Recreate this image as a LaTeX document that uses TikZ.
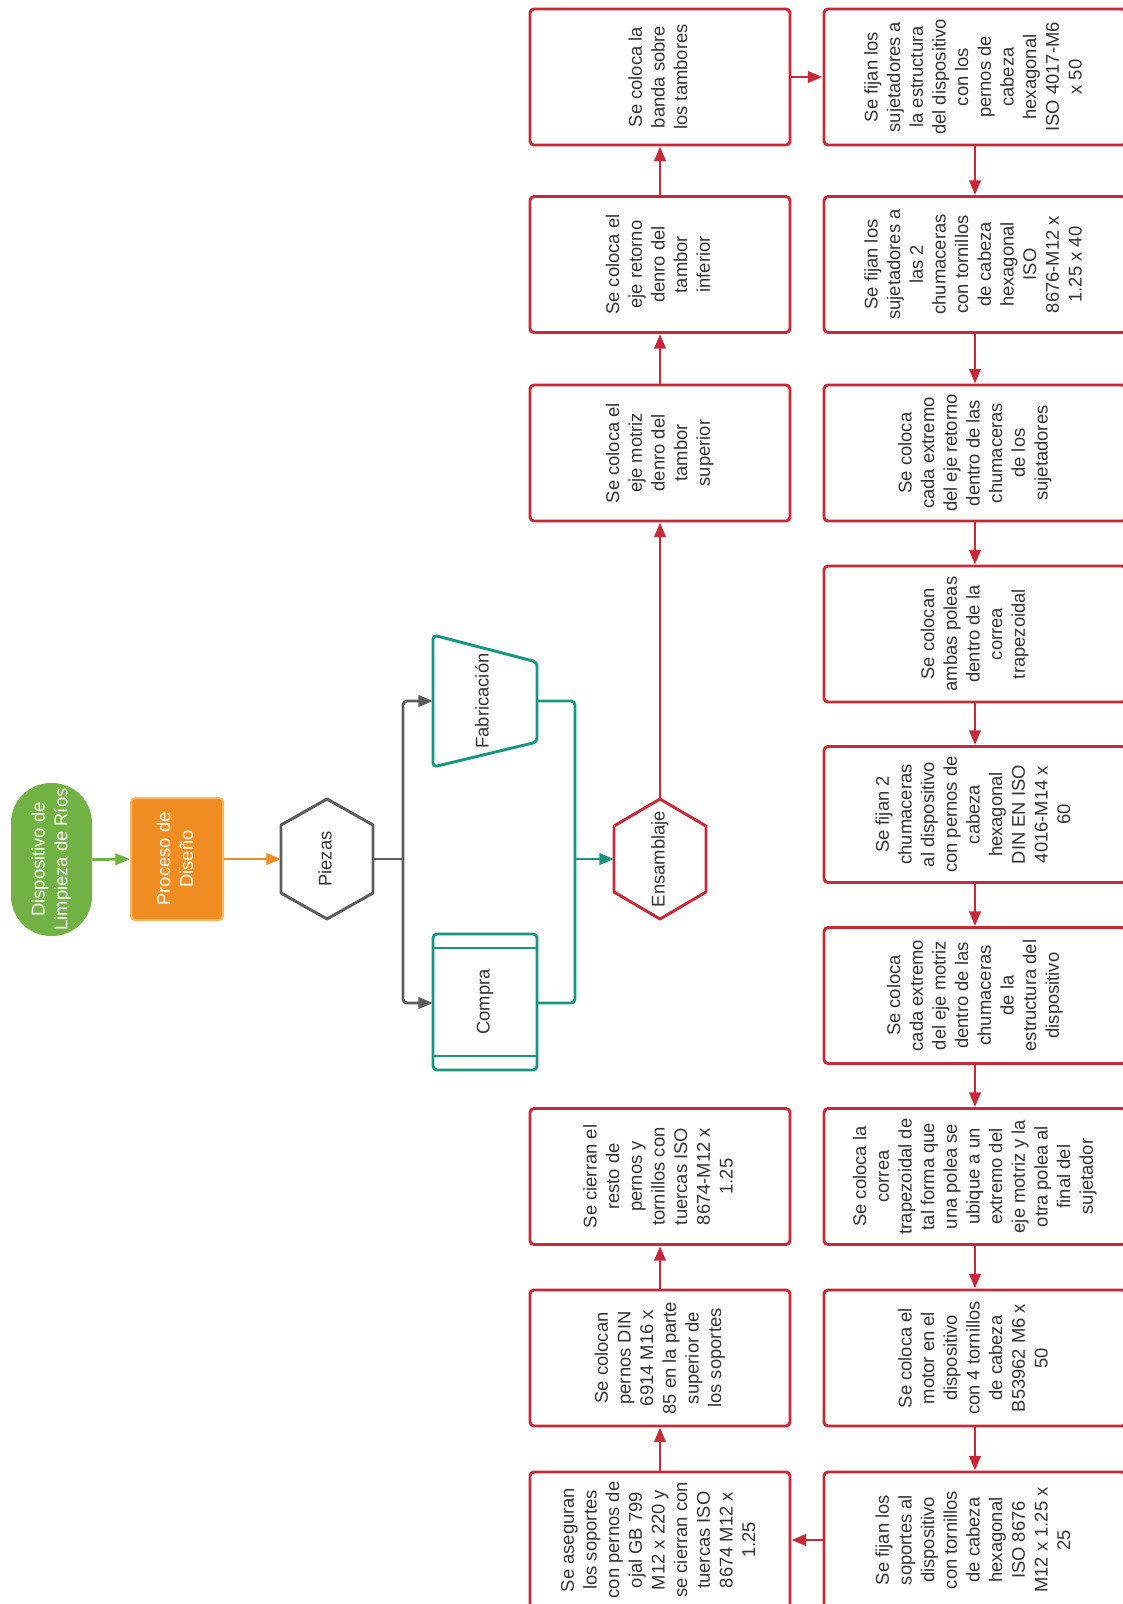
\documentclass[tikz,border=0pt]{standalone}
\usepackage{fontspec}
\setmainfont{Liberation Sans}
\usetikzlibrary{arrows.meta}
\definecolor{lred}{HTML}{C62A38}
\definecolor{lteal}{HTML}{1A9680}
\definecolor{lgray}{HTML}{5C5C5C}
\definecolor{lgreen}{HTML}{72B144}
\definecolor{lorange}{HTML}{EF8D22}
\definecolor{lorangeb}{HTML}{F8B660}
\definecolor{txt}{HTML}{333333}
\newcommand{\rt}[1]{\rotatebox{90}{\begin{tabular}{@{}c@{}}#1\end{tabular}}}
\tikzset{
  box/.style={draw=lred, line width=2.2pt, rounded corners=3pt, fill=white, inner sep=0pt,
    minimum height=102pt, text=txt, font=\fontsize{13.8}{17}\selectfont},
  lbox/.style={box, minimum width=195pt},
  rbox/.style={box, minimum width=226.5pt},
  tip/.style={-{Triangle[length=11pt,width=8.5pt]}},
  redarrow/.style={draw=lred, line width=2.2pt, tip},
  grayline/.style={draw=lgray, line width=2.2pt, rounded corners=3pt},
  tealline/.style={draw=lteal, line width=2.2pt, rounded corners=3pt},
  lbl/.style={inner sep=0pt, text=txt, font=\fontsize{13.8}{17}\selectfont},
}
\begin{document}
\begin{tikzpicture}[x=0.75pt,y=-0.75pt]
\useasboundingbox (0,0) rectangle (1123,1604);
\begin{scope}
\clip (0,0) rectangle (1123,1604);
\fill[white] (0,0) rectangle (1123,1604);

% start shapes
\node[fill=lgreen, rounded corners=30pt, minimum width=60.75pt, minimum height=114.75pt, inner sep=0pt,
  text=white, font=\fontsize{13.8}{17}\selectfont] (disp) at (51.5,859.5) {\rt{Dispositivo de\\Limpieza de Ríos}};
\node[fill=lorange, draw=lorangeb, line width=1.5pt, rounded corners=3pt, minimum width=69pt, minimum height=91.5pt, inner sep=0pt,
  text=white, font=\fontsize{13.8}{17}\selectfont] (dis) at (177,859) {\rt{Proceso de\\Diseño}};

% Piezas hexagon
\draw[lgray, line width=2.2pt, line join=round] (327,799) -- (373,825) -- (373,893) -- (327,919) -- (281,893) -- (281,825) -- cycle;
\node[lbl] (piezas) at (327,859) {\rt{Piezas}};
\coordinate (piezasW) at (281,859);
\coordinate (piezasE) at (373,859);

% Fabricacion trapezoid
\draw[lteal, line width=2.2pt, rounded corners=3pt, line join=round] (433,635) -- (537,662) -- (537,742) -- (433,767) -- cycle;
\node[lbl] (fab) at (484,701) {\rt{Fabricación}};
\coordinate (fabW) at (433,701);
\coordinate (fabE) at (537,701);

% Compra
\draw[lteal, line width=2.2pt, rounded corners=3pt] (433,934) rectangle (537,1070);
\draw[lteal, line width=2.2pt] (433,948) -- (537,948);
\draw[lteal, line width=2.2pt] (433,1056) -- (537,1056);
\node[lbl] (compra) at (485,1002) {\rt{Compra}};
\coordinate (compraW) at (433,1003);
\coordinate (compraE) at (537,1003);

% Ensamblaje hexagon
\draw[lred, line width=2.2pt, line join=round] (660,799) -- (706,826) -- (706,892) -- (660,919) -- (614,892) -- (614,826) -- cycle;
\node[lbl] (ens) at (660,859) {\rt{Ensamblaje}};
\coordinate (ensW) at (614,859);
\coordinate (ensN) at (660,799);

% left column
\node[lbox] (L1) at (660,77) {\rt{Se coloca la\\banda sobre\\los tambores}};
\node[lbox] (L2) at (660,264.5) {\rt{Se coloca el\\eje retorno\\denro del\\tambor\\inferior}};
\node[lbox] (L3) at (660,453) {\rt{Se coloca el\\eje motriz\\denro del\\tambor\\superior}};
\node[lbox] (L7) at (660,1176.5) {\rt{Se cierran el\\resto de\\pernos y\\tornillos con\\tuercas ISO\\8674-M12 x\\1.25}};
\node[lbox] (L8) at (660,1358) {\rt{Se colocan\\pernos DIN\\6914 M16 x\\85 en la parte\\superior de\\los soportes}};
\node[lbox] (L9) at (660,1540) {\rt{Se aseguran\\los soportes\\con pernos de\\ojal GB 799\\M12 x 220 y\\se cierran con\\tuercas ISO\\8674 M12 x\\1.25}};

% right column
\node[rbox] (R1) at (975,77) {\rt{Se fijan los\\sujetadores a\\la estructura\\del dispositivo\\con los\\pernos de\\cabeza\\hexagonal\\ISO 4017-M6\\x 50}};
\node[rbox] (R2) at (975,264.5) {\rt{Se fijan los\\sujetadores a\\las 2\\chumaceras\\con tornillos\\de cabeza\\hexagonal\\ISO\\8676-M12 x\\1.25 x 40}};
\node[rbox] (R3) at (975,453) {\rt{Se coloca\\cada extremo\\del eje retorno\\dentro de las\\chumaceras\\de los\\sujetadores}};
\node[rbox] (R4) at (975,634) {\rt{Se colocan\\ambas poleas\\dentro de la\\correa\\trapezoidal}};
\node[rbox] (R5) at (975,814.5) {\rt{Se fijan 2\\chumaceras\\al dispositivo\\con pernos de\\cabeza\\hexagonal\\DIN EN ISO\\4016-M14 x\\60}};
\node[rbox] (R6) at (975,995.5) {\rt{Se coloca\\cada extremo\\del eje motriz\\dentro de las\\chumaceras\\de la\\estructura del\\dispositivo}};
\node[rbox] (R7) at (975,1176.5) {\rt{Se coloca la\\correa\\trapezoidal de\\tal forma que\\una polea se\\ubique a un\\extremo del\\eje motriz y la\\otra polea al\\final del\\sujetador}};
\node[rbox] (R8) at (975,1358) {\rt{Se coloca el\\motor en el\\dispositivo\\con 4 tornillos\\de cabeza\\B53962 M6 x\\50}};
\node[rbox] (R9) at (975,1540) {\rt{Se fijan los\\soportes al\\dispositivo\\con tornillos\\de cabeza\\hexagonal\\ISO 8676\\M12 x 1.25 x\\25}};

% connectors: top part
\draw[draw=lgreen, line width=2.2pt, tip] (disp) -- (dis);
\draw[draw=lorange, line width=2.2pt, tip] (dis) -- (piezasW);
\coordinate (jg) at (403,859);
\draw[grayline] (piezasE) -- (jg);
\draw[grayline, tip] (jg) |- (fabW);
\draw[grayline, tip] (jg) |- (compraW);
\coordinate (jt) at (575,859);
\draw[tealline] (fabE) -| (jt);
\draw[tealline] (compraE) -| (jt);
\draw[tealline, tip] (jt) -- (ensW);

% red chain
\draw[redarrow] (ensN) -- (L3.south);
\draw[redarrow] (L3) -- (L2);
\draw[redarrow] (L2) -- (L1);
\draw[redarrow] (L1) -- (R1);
\draw[redarrow] (R1) -- (R2);
\draw[redarrow] (R2) -- (R3);
\draw[redarrow] (R3) -- (R4);
\draw[redarrow] (R4) -- (R5);
\draw[redarrow] (R5) -- (R6);
\draw[redarrow] (R6) -- (R7);
\draw[redarrow] (R7) -- (R8);
\draw[redarrow] (R8) -- (R9);
\draw[redarrow] (R9) -- (L9);
\draw[redarrow] (L9) -- (L8);
\draw[redarrow] (L8) -- (L7);
\end{scope}
\end{tikzpicture}
\end{document}
